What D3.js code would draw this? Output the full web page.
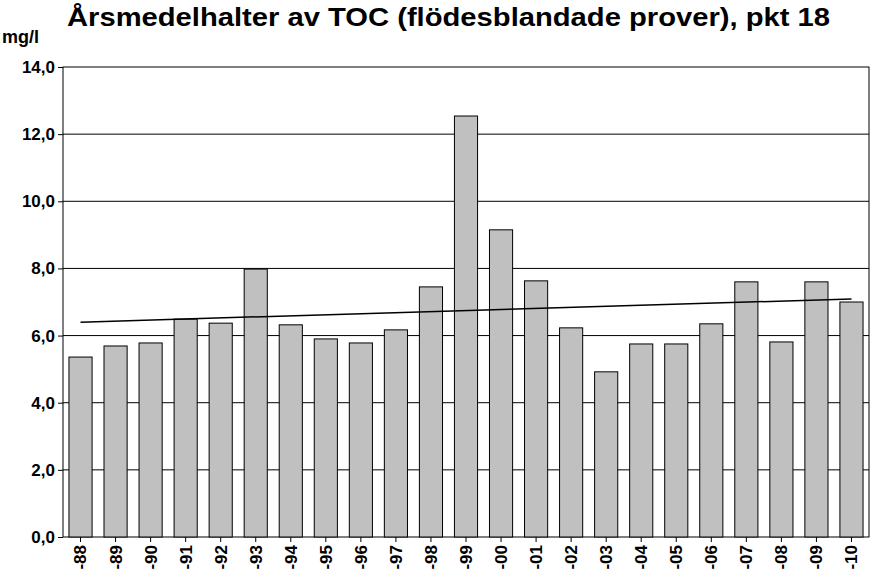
<!DOCTYPE html>
<html><head><meta charset="utf-8">
<script src="https://cdn.jsdelivr.net/npm/d3@7"></script>
<style>body{margin:0;background:#fff}svg{font-family:"Liberation Sans",Arial,sans-serif;font-weight:bold}</style>
</head><body><svg id="c" width="872" height="580"></svg>
<script>
const categories=["-88","-89","-90","-91","-92","-93","-94","-95","-96","-97","-98","-99","-00","-01","-02","-03","-04","-05","-06","-07","-08","-09","-10"];
const values=[5.36,5.69,5.78,6.49,6.37,7.98,6.32,5.9,5.78,6.17,7.45,12.54,9.15,7.63,6.23,4.92,5.75,5.75,6.35,7.6,5.81,7.6,7.0];
const trend=[6.40,7.09];
const yTicks=[0,2,4,6,8,10,12,14];
const svg=d3.select("#c");
const L=63,R=869,T=67,B=537;
const x=d3.scaleBand().domain(categories).range([L,R]).paddingInner(0.34).paddingOuter(0.17);
const y=d3.scaleLinear().domain([0,14]).range([B,T]);
svg.append("rect").attr("x",L).attr("y",T).attr("width",R-L).attr("height",B-T).attr("fill","#fff").attr("stroke","#000");
svg.append("g").selectAll("line").data(yTicks.slice(1,-1)).join("line").attr("x1",L).attr("x2",R).attr("y1",d=>y(d)).attr("y2",d=>y(d)).attr("stroke","#000");
svg.append("g").selectAll("rect").data(values).join("rect").attr("x",(d,i)=>x(categories[i])).attr("width",x.bandwidth()).attr("y",d=>y(d)).attr("height",d=>B-y(d)).attr("fill","#c0c0c0").attr("stroke","#000");
const ya=svg.append("g").attr("transform",`translate(${L},0)`).call(d3.axisLeft(y).tickValues(yTicks).tickSize(5).tickFormat(d=>d3.format(".1f")(d).replace(".",",")));
ya.select(".domain").remove();
ya.selectAll("text").attr("font-size",17).attr("font-family","Liberation Sans").attr("font-weight","bold").attr("fill","#000");
const xa=svg.append("g").attr("transform",`translate(0,${B})`).call(d3.axisBottom(x).tickSize(5));
xa.select(".domain").remove();
xa.selectAll("text").attr("font-size",17).attr("font-family","Liberation Sans").attr("font-weight","bold").attr("fill","#000")
 .attr("transform","rotate(-90)").attr("text-anchor","end").attr("x",-8).attr("y",0).attr("dy","0.35em");
const c0=x(categories[0])+x.bandwidth()/2, c1=x(categories[categories.length-1])+x.bandwidth()/2;
svg.append("line").attr("x1",c0).attr("x2",c1).attr("y1",y(trend[0])).attr("y2",y(trend[1])).attr("stroke","#000").attr("stroke-width",1.5);
svg.append("text").attr("x",67).attr("y",26).attr("font-size",25).attr("textLength",763).attr("lengthAdjust","spacingAndGlyphs").text("Årsmedelhalter av TOC (flödesblandade prover), pkt 18");
svg.append("text").attr("x",2).attr("y",43).attr("font-size",18).text("mg/l");
</script></body></html>
